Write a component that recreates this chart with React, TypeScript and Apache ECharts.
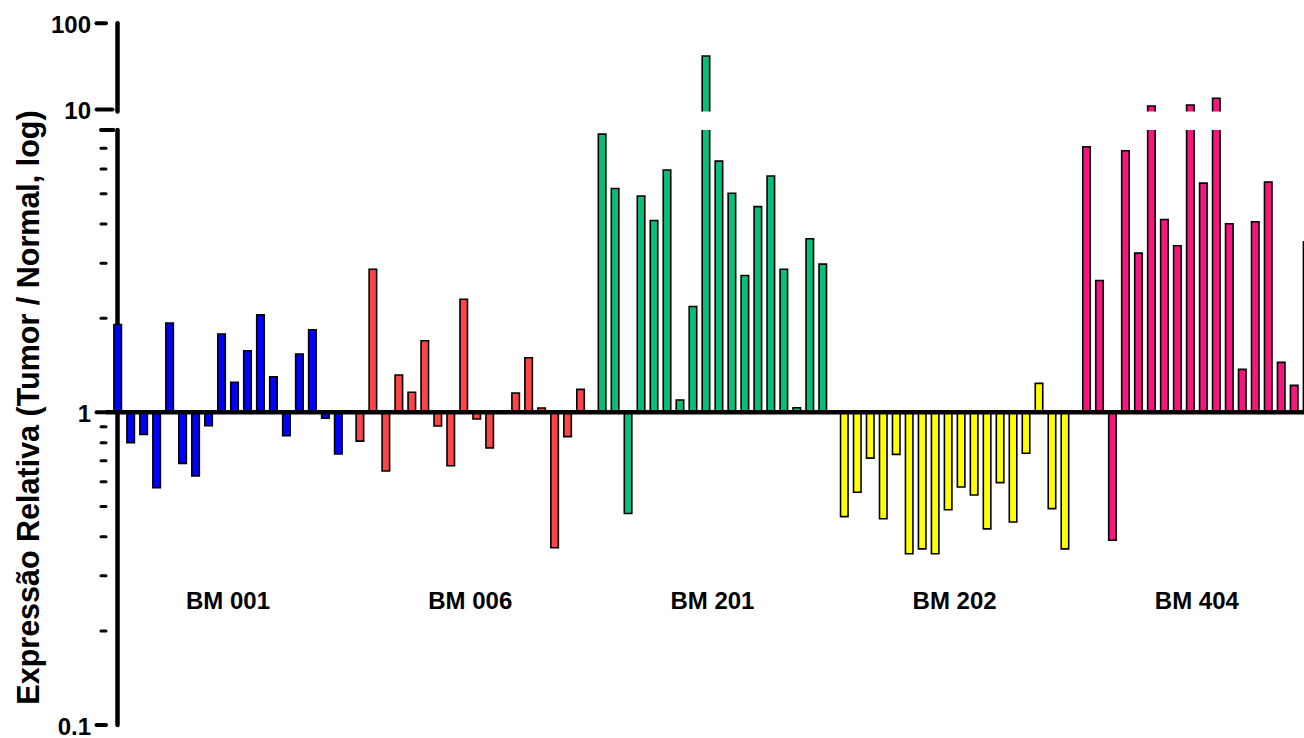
import { useEffect, useRef } from 'react';
import * as echarts from 'echarts';

// ---------------- data ----------------
const GROUP_NAMES = ['BM 001', 'BM 006', 'BM 201', 'BM 202', 'BM 404'];
const BM001 = [1.91, 0.8, 0.85, 0.574, 1.93, 0.687, 0.626, 0.906, 1.78, 1.247, 1.574, 2.05, 1.3, 0.842, 1.536, 1.837, 0.957, 0.736];
const BM006 = [0.809, 2.87, 0.649, 1.316, 1.159, 1.694, 0.904, 0.675, 2.3, 0.952, 0.77, 1.0, 1.153, 1.495, 1.032, 0.369, 0.836, 1.184];
const BM201 = [7.76, 5.2, 0.475, 4.92, 4.11, 5.96, 1.095, 2.18, 41.8, 6.36, 5.02, 2.74, 4.55, 5.7, 2.87, 1.034, 3.59, 2.98];
const BM202 = [0.464, 0.555, 0.714, 0.457, 0.734, 0.353, 0.366, 0.353, 0.488, 0.577, 0.544, 0.424, 0.596, 0.446, 0.74, 1.238, 0.492, 0.366];
const BM404 = [7.07, 2.64, 0.39, 6.87, 3.23, 10.98, 4.14, 3.41, 11.28, 5.41, 13.5, 4.01, 1.372, 4.07, 5.45, 1.445, 1.22, 3.51];
const GROUP_VALUES = [BM001, BM006, BM201, BM202, BM404];

const LOWER_RANGE = [0.1, 8];
const UPPER_RANGE = [9.505, 100];
const LOWER_MAJOR_TICKS = [0.1, 1];
const LOWER_MINOR_TICKS = [0.2, 0.3, 0.4, 0.5, 0.6, 0.7, 0.8, 0.9, 2, 3, 4, 5, 6, 7];
const LOWER_BREAK_TICKS = [8];
const UPPER_MAJOR_TICKS = [100];
const UPPER_BREAK_TICKS = [10];
const Y_TITLE = 'Expressão Relativa (Tumor / Normal, log)';

// ---------------- styles / layout ----------------
const GROUP_COLORS = ['#0000FF', '#FA4646', '#07BE7A', '#FFFF00', '#F5167E'];
const FONT = '"Liberation Sans", Arial, Helvetica, sans-serif';
const GROUP_STRIDE = 18.66;
const PX_PER_UNIT = 12.98;
const GRID_LEFT = 106;
const X_MIN = -0.9;
const X_MAX = X_MIN + (1304 - GRID_LEFT) / PX_PER_UNIT;

const isDecade = (v: number) => {
  const l = Math.log10(v);
  return Math.abs(l - Math.round(l)) < 1e-6;
};
const fmtLabel = (v: number) => {
  if (!isDecade(v)) return '';
  return v < 1 ? v.toFixed(1) : String(Math.round(v));
};

export default function App() {
  const ref = useRef<HTMLDivElement>(null);

  useEffect(() => {
    if (!ref.current) return;
    const chart = echarts.init(ref.current, undefined, { renderer: 'svg' });

    const barItems: number[][] = [];
    GROUP_VALUES.forEach((vals, g) => {
      vals.forEach((v, i) => barItems.push([g * GROUP_STRIDE + i, v, g]));
    });

    const makeBarRender = (minVal: number, baseVal: number) => (params: any, api: any) => {
      const x = api.value(0);
      const v = api.value(1);
      const g = api.value(2);
      if (v <= minVal) return null;
      const base = api.coord([x, baseVal]);
      const top = api.coord([x, v]);
      const left = api.coord([x - 0.5, baseVal])[0];
      const right = api.coord([x + 0.5, baseVal])[0];
      const w = (right - left) * 0.578;
      const h = Math.abs(base[1] - top[1]);
      if (h < 0.5) return null;
      return {
        type: 'rect',
        shape: { x: base[0] - w / 2, y: Math.min(base[1], top[1]), width: w, height: h },
        style: { fill: GROUP_COLORS[g], stroke: '#000', lineWidth: 1.6 },
      };
    };

    const tickItems = (major: number[], minor: number[], brk: number[], brkKind: number) => [
      ...major.map((v) => [X_MIN, v, 0]),
      ...minor.map((v) => [X_MIN, v, 1]),
      ...brk.map((v) => [X_MIN, v, brkKind]),
    ];

    const renderTick = (params: any, api: any) => {
      const v = api.value(1);
      const kind = api.value(2);
      const p = api.coord([X_MIN, v]);
      const x0 = p[0];
      const y = p[1];
      let x1 = x0 - 9.5;
      let x2 = x0;
      let lw = 4;
      if (kind === 1) {
        x1 = x0 - 5;
        lw = 3;
      } else if (kind === 2) {
        x1 = x0 - 5;
        x2 = x0 + 7.5;
      } else if (kind === 3) {
        x1 = x0 - 9.5;
        x2 = x0 + 6.5;
      }
      const children: any[] = [
        {
          type: 'line',
          shape: { x1, y1: y, x2, y2: y },
          style: { stroke: '#000', lineWidth: lw, lineCap: 'round' },
        },
      ];
      const label = fmtLabel(v);
      if (label) {
        children.push({
          type: 'text',
          x: x0 - 15,
          y: y + 1,
          style: {
            text: label,
            font: `bold 24px ${FONT}`,
            fill: '#000',
            align: 'right',
            verticalAlign: 'middle',
          },
        });
      }
      return { type: 'group', children };
    };

    const yAxisBase = {
      type: 'log' as const,
      logBase: 10,
      axisLine: { show: true, lineStyle: { color: '#000', width: 4.5 } },
      axisTick: { show: false },
      minorTick: { show: false },
      splitLine: { show: false },
      axisLabel: { show: false },
    };

    chart.setOption({
      animation: false,
      backgroundColor: '#fff',
      grid: [
        { left: GRID_LEFT, right: 0, top: 130, height: 595, containLabel: false, outerBoundsMode: 'none' },
        { left: GRID_LEFT, right: 0, top: 23.3, height: 88.1, containLabel: false, outerBoundsMode: 'none' },
      ],
      xAxis: [
        { type: 'value', gridIndex: 0, min: X_MIN, max: X_MAX, show: false },
        { type: 'value', gridIndex: 1, min: X_MIN, max: X_MAX, show: false },
      ],
      yAxis: [
        { ...yAxisBase, gridIndex: 0, min: LOWER_RANGE[0], max: LOWER_RANGE[1] },
        { ...yAxisBase, gridIndex: 1, min: UPPER_RANGE[0], max: UPPER_RANGE[1] },
      ],
      graphic: [
        {
          type: 'text',
          x: 28,
          y: 407.5,
          rotation: Math.PI / 2,
          style: {
            text: Y_TITLE,
            font: `bold 30.5px ${FONT}`,
            fill: '#000',
            align: 'center',
            verticalAlign: 'middle',
            textAlign: 'center',
            textVerticalAlign: 'middle',
          },
        },
      ],
      series: [
        {
          type: 'custom',
          name: 'lower bars',
          xAxisIndex: 0,
          yAxisIndex: 0,
          clip: true,
          z: 2,
          data: barItems,
          renderItem: makeBarRender(0, 1),
        },
        {
          type: 'custom',
          name: 'upper bars',
          xAxisIndex: 1,
          yAxisIndex: 1,
          clip: true,
          z: 2,
          data: barItems,
          renderItem: makeBarRender(UPPER_RANGE[0], 1),
        },
        {
          type: 'custom',
          name: 'baseline',
          xAxisIndex: 0,
          yAxisIndex: 0,
          clip: false,
          z: 4,
          data: [[X_MIN, 1]],
          renderItem: (params: any, api: any) => {
            const a = api.coord([X_MIN, 1]);
            const b = api.coord([X_MAX, 1]);
            return {
              type: 'line',
              shape: { x1: a[0], y1: a[1], x2: b[0] + 2, y2: b[1] },
              style: { stroke: '#000', lineWidth: 4.5 },
            };
          },
        },
        {
          type: 'custom',
          name: 'lower ticks',
          xAxisIndex: 0,
          yAxisIndex: 0,
          clip: false,
          z: 5,
          data: tickItems(LOWER_MAJOR_TICKS, LOWER_MINOR_TICKS, LOWER_BREAK_TICKS, 2),
          renderItem: renderTick,
        },
        {
          type: 'custom',
          name: 'upper ticks',
          xAxisIndex: 1,
          yAxisIndex: 1,
          clip: false,
          z: 5,
          data: tickItems(UPPER_MAJOR_TICKS, [], UPPER_BREAK_TICKS, 3),
          renderItem: renderTick,
        },
        {
          type: 'custom',
          name: 'group labels',
          xAxisIndex: 0,
          yAxisIndex: 0,
          clip: false,
          z: 5,
          data: GROUP_NAMES.map((n, g) => [g * GROUP_STRIDE + 8.5, 1, g]),
          renderItem: (params: any, api: any) => {
            const g = api.value(2);
            const p = api.coord([api.value(0), 1]);
            return {
              type: 'text',
              x: p[0],
              y: 600,
              style: {
                text: GROUP_NAMES[g],
                font: `bold 24px ${FONT}`,
                fill: '#000',
                align: 'center',
                verticalAlign: 'middle',
              },
            };
          },
        },
      ],
    });

    return () => chart.dispose();
  }, []);

  return (
    <div
      style={{ position: 'absolute', left: 0, top: 0, width: 1304, height: 738, overflow: 'hidden', background: '#fff' }}
    >
      <div ref={ref} style={{ width: 1304, height: 738 }} />
    </div>
  );
}
